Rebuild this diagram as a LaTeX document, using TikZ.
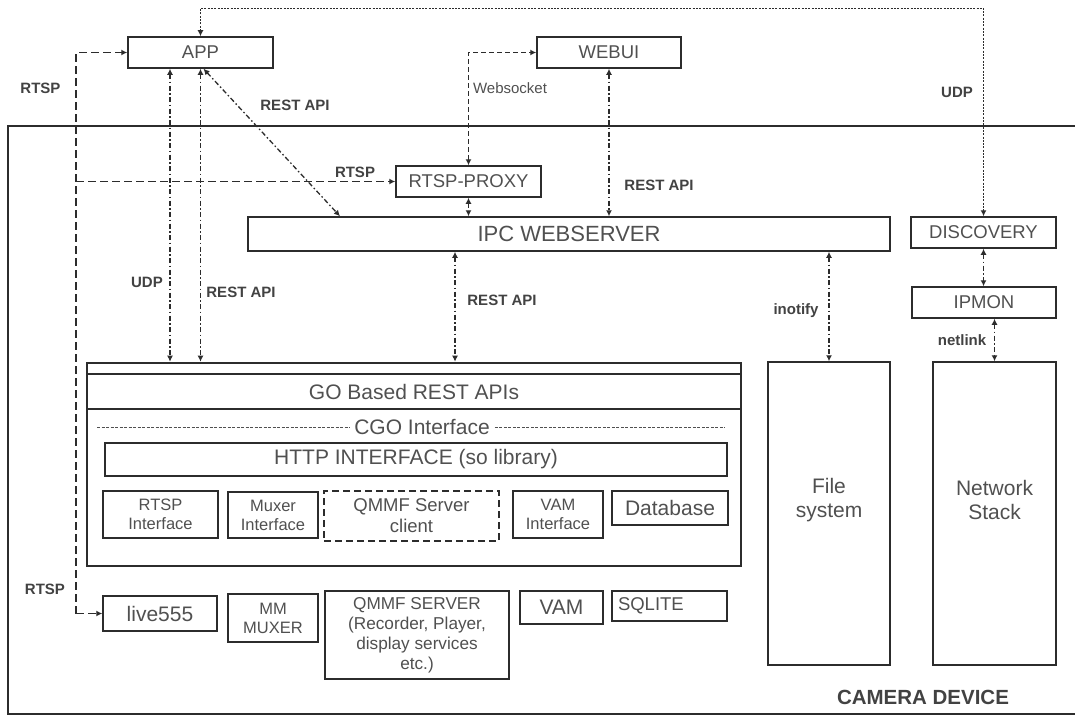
\documentclass[tikz,border=0pt]{standalone}
\usepackage{fontspec}
\setmainfont{Liberation Sans}
\usetikzlibrary{arrows.meta}
\definecolor{ln}{HTML}{2c2c2c}
\definecolor{tx}{HTML}{505050}
\definecolor{lb}{HTML}{424242}
\begin{document}
\begin{tikzpicture}[x=1pt,y=-1pt,
  >={Latex[length=6pt,width=6pt]},
  box/.style={draw=ln, line width=1.5pt, text=tx, inner sep=0pt, align=center},
  dbox/.style={box, dash pattern=on 7pt off 4pt},
  heavy/.style={draw=ln, line width=2.6pt},
  fA/.style={font=\fontsize{18.5}{21}\selectfont},
  fB/.style={font=\fontsize{21}{24}\selectfont},
  fC/.style={font=\fontsize{16.5}{19}\selectfont},
  fD/.style={font=\fontsize{17.2}{20}\selectfont},
  lab/.style={text=lb, inner sep=0pt, font=\bfseries\fontsize{15}{17}\selectfont},
  rtsp/.style={draw=ln, line width=1.5pt, dash pattern=on 8pt off 4pt},
  ws/.style={draw=ln, line width=1.5pt, dash pattern=on 5pt off 3pt},
  dd/.style={draw=ln, line width=1.3pt, dash pattern=on 5pt off 2.5pt on 1.5pt off 2.5pt},
  dt/.style={draw=ln, line width=1.3pt, dash pattern=on 2pt off 1.3pt},
  cgod/.style={draw=tx, line width=0.8pt, dash pattern=on 3pt off 1.5pt}
]
\useasboundingbox (0,0) rectangle (1075,717);

% camera device frame
\draw[heavy] (1080,126) -- (8,126) -- (8,714) -- (1080,714);
\node[lab, font=\bfseries\fontsize{20.5}{23}\selectfont] (cam) at (923,697) {CAMERA DEVICE};

% top boxes
\node[box, fA, minimum width=145, minimum height=31] (app) at (200.5,52.5) {APP};
\node[box, fA, minimum width=144, minimum height=31] (webui) at (609,52.5) {WEBUI};
\node[box, fA, minimum width=145, minimum height=31] (proxy) at (468.5,181.5) {RTSP-PROXY};
\node[box, font=\fontsize{22}{25}\selectfont, minimum width=642, minimum height=34] (ipc) at (569,234) {IPC WEBSERVER};
\node[box, fA, minimum width=145, minimum height=31] (disc) at (983.5,232.5) {DISCOVERY};
\node[box, fA, minimum width=144, minimum height=31] (ipmon) at (984,302.5) {IPMON};

% GO block
\node[heavy, minimum width=654, minimum height=203, inner sep=0pt] (go) at (414,464.5) {};
\node[box, fB, minimum width=654, minimum height=35] (goapi) at (414,391.5) {GO Based REST APIs};
\node[text=tx, fB, inner xsep=5pt, inner ysep=0pt] (cgo) at (422,427) {CGO Interface};
\coordinate (cgoL) at (97,427);
\coordinate (cgoR) at (725,427);
\draw[cgod] (cgoL) -- (cgo.west);
\draw[cgod] (cgo.east) -- (cgoR);
\node[box, fB, minimum width=622, minimum height=33] (http) at (416,459.5) {HTTP INTERFACE (so library)};
\node[box, fC, minimum width=115, minimum height=47] (rtspi) at (160.5,514.5) {RTSP\\Interface};
\node[box, fC, minimum width=90, minimum height=46] (muxi) at (273,515) {Muxer\\Interface};
\node[dbox, fA, minimum width=175, minimum height=50] (qmmfc) at (411.5,516) {QMMF Server\\client};
\node[box, fC, minimum width=90, minimum height=47] (vami) at (558,514.5) {VAM\\Interface};
\node[box, fB, minimum width=116, minimum height=34] (db) at (670,508) {Database};

% bottom row
\node[box, fB, minimum width=114, minimum height=35] (live) at (160,613.5) {live555};
\node[box, fC, minimum width=90, minimum height=48] (mmmux) at (273,618) {MM\\MUXER};
\node[box, fD, minimum width=184, minimum height=88] (qmmfs) at (417,635) {QMMF SERVER\\(Recorder, Player,\\display services\\etc.)};
\node[box, fB, minimum width=83, minimum height=33] (vam) at (561.5,607.5) {VAM};
\node[box, fA, minimum width=115, minimum height=30, text width=103, align=left] (sqlite) at (669.5,606) {SQLITE};

% right column
\node[box, minimum width=122, minimum height=303] (fs) at (829,513.5) {};
\node[text=tx, fB, align=center, inner sep=0pt] (fst) at (829,500) {File\\system};
\node[box, minimum width=123, minimum height=303] (ns) at (994.5,513.5) {};
\node[text=tx, fB, align=center, inner sep=0pt] (nst) at (994.5,500) {Network\\Stack};

% helper x positions
\coordinate (rx) at (76,0);
\coordinate (ux) at (170,0);
\coordinate (ix) at (455,0);
\coordinate (dx) at (340,0);

% RTSP (dashed)
\draw[rtsp,->] (rx |- live.west) |- (app.west);
\draw[rtsp,->] (rx |- live.west) -- (live.west);
\draw[rtsp,->] (rx |- proxy.west) -- (proxy.west);
\node[lab] (l1) at (40.5,88) {RTSP};
\node[lab] (l2) at (355,172) {RTSP};
\node[lab] (l3) at (45,589) {RTSP};

% Websocket
\draw[ws,<->] (proxy.north) |- (webui.west);
\node[text=tx, inner sep=0pt, font=\fontsize{15}{17}\selectfont] (l4) at (510,88) {Websocket};

% top UDP (dotted)
\draw[dt,<->] (app.north) -- ++(0,-28) -| (disc.north);
\node[lab] (l5) at (957,92) {UDP};

% REST API / UDP dash-dot links
\draw[dd,<->] ([xshift=3pt]app.south) -- (dx |- ipc.north);
\node[lab] (l6) at (295,105) {REST API};
\draw[dd,<->] (proxy.south) -- (proxy.south |- ipc.north);
\draw[dd,<->] (webui.south) -- (webui.south |- ipc.north);
\node[lab] (l7) at (659,185) {REST API};
\draw[dd,<->] (ux |- app.south) -- (ux |- go.north);
\node[lab] (l8) at (147,282) {UDP};
\draw[dd,<->] (app.south) -- (app.south |- go.north);
\node[lab] (l9) at (241,292) {REST API};
\draw[dd,<->] (ix |- ipc.south) -- (ix |- go.north);
\node[lab] (l10) at (502,300) {REST API};
\draw[dd,<->] (fs.north |- ipc.south) -- (fs.north);
\node[lab] (l11) at (796,311) {inotify};
\draw[dd,<->] (disc.south) -- (disc.south |- ipmon.north);
\draw[dd,<->] (ns.north |- ipmon.south) -- (ns.north);
\node[lab] (l12) at (962,340) {netlink};
\end{tikzpicture}
\end{document}
